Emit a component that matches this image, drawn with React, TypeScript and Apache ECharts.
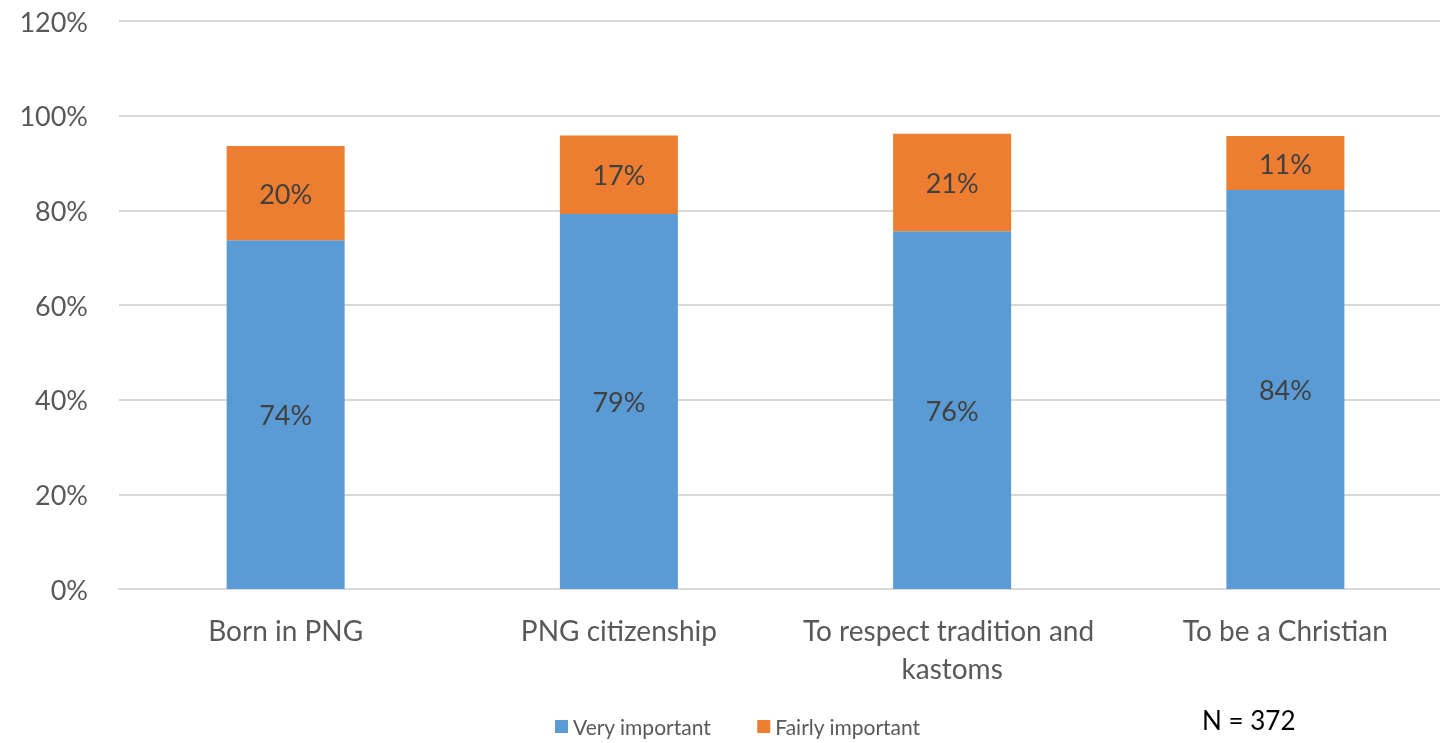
import React, { useEffect, useRef } from "react";
import * as echarts from "echarts";

const categories = ["Born in PNG", "PNG citizenship", "To respect tradition and kastoms", "To be a Christian"];
const veryImportant = [73.7, 79.2, 75.6, 84.3];
const fairlyImportant = [19.9, 16.6, 20.6, 11.4];
const seriesNames = ["Very important", "Fairly important"];
const yTicks = { min: 0, max: 120, interval: 20 };
const noteText = "N = 372";

const FONT = "Lato, 'Open Sans', sans-serif";

export default function App() {
  const ref = useRef<HTMLDivElement>(null);
  useEffect(() => {
    if (!ref.current) return;
    const chart = echarts.init(ref.current, undefined, { renderer: "svg" });
    const labelCfg = {
      show: true,
      position: "inside",
      formatter: (p: any) => Math.round(p.value) + "%",
      color: "#404040",
      fontFamily: FONT,
      fontSize: 27,
    };
    chart.setOption({
      animation: false,
      textStyle: { fontFamily: FONT },
      grid: { left: 119, right: 0, top: 21, bottom: 154, containLabel: false },
      legend: {
        left: 550,
        top: 711,
        itemWidth: 13,
        itemHeight: 13,
        itemGap: 46,
        icon: "rect",
        textStyle: { color: "#595959", fontSize: 21, fontFamily: FONT },
        data: seriesNames,
      },
      xAxis: {
        type: "category",
        data: categories,
        axisLine: { show: true, lineStyle: { color: "#D9D9D9", width: 2 } },
        axisTick: { show: false },
        axisLabel: {
          color: "#595959",
          fontSize: 28,
          fontFamily: FONT,
          margin: 22,
          lineHeight: 38,
          width: 320,
          overflow: "break",
          interval: 0,
        },
      },
      yAxis: {
        type: "value",
        min: yTicks.min,
        max: yTicks.max,
        interval: yTicks.interval,
        axisLine: { show: false },
        axisTick: { show: false },
        splitLine: { lineStyle: { color: "#D9D9D9", width: 2 } },
        axisLabel: {
          formatter: (v: number) => v + "%",
          color: "#595959",
          fontSize: 27,
          fontFamily: FONT,
          margin: 31,
        },
      },
      series: [
        {
          name: seriesNames[0],
          type: "bar",
          stack: "total",
          barWidth: 118,
          data: veryImportant,
          itemStyle: { color: "#5B9BD5" },
          label: labelCfg,
        },
        {
          name: seriesNames[1],
          type: "bar",
          stack: "total",
          barWidth: 118,
          data: fairlyImportant,
          itemStyle: { color: "#ED7D31" },
          label: labelCfg,
        },
      ],
      graphic: [
        {
          type: "text",
          left: 1202,
          top: 707,
          style: { text: noteText, fill: "#000000", fontSize: 26, fontFamily: FONT },
        },
      ],
    });
    return () => chart.dispose();
  }, []);
  return (
    <div style={{ position: "fixed", left: 0, top: 0, width: 1440, height: 743, overflow: "hidden" }}>
      <div ref={ref} style={{ width: 1452, height: 743 }} />
    </div>
  );
}
